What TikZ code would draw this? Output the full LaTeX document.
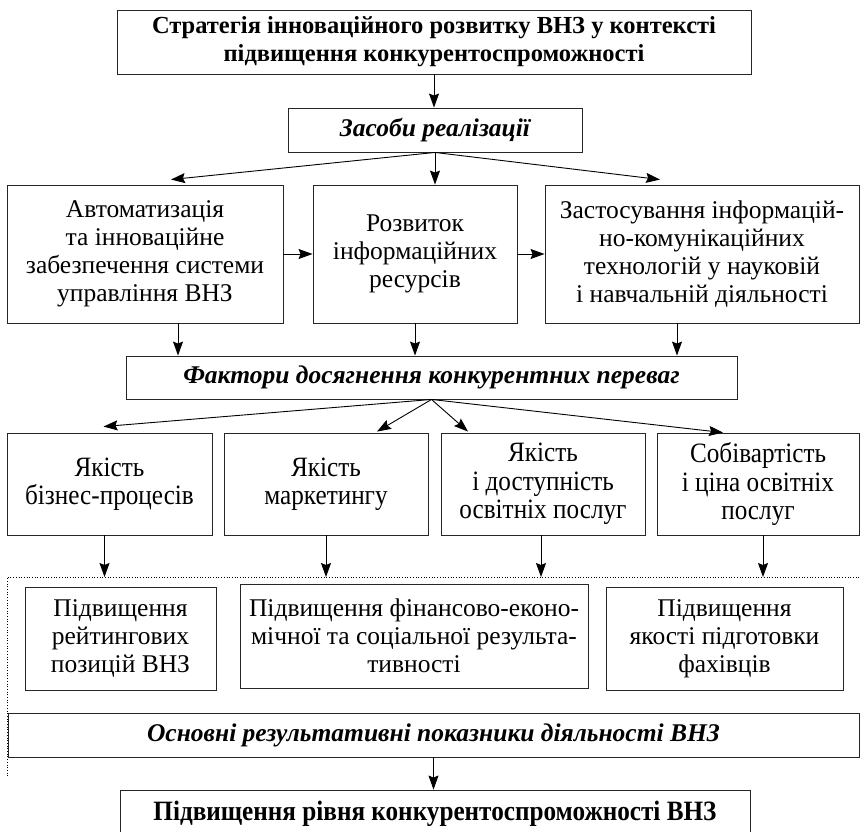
\documentclass[tikz,border=0pt]{standalone}
\usepackage{fontspec}
\setmainfont{Liberation Serif}
\newfontfamily\narrowfont{Liberation Serif}[FakeStretch=0.9]
\usetikzlibrary{arrows.meta}

\begin{document}
\begin{tikzpicture}[x=1pt,y=-1pt,
		box/.style={draw=black!85,line width=.9pt,align=center,inner sep=0pt,
			font=\fontsize{25.5}{28}\selectfont},
		headbox/.style={box,font=\fontsize{25.5}{28}\selectfont\bfseries\itshape},
		narrowbox/.style={box,font=\narrowfont\fontsize{28}{28.5}\selectfont},
		arr/.style={line width=.9pt,-{Stealth[length=14pt,width=10pt,inset=2pt]}}]

	\useasboundingbox (0,0) rectangle (861,831);

	\node[box,font=\fontsize{24.5}{28}\selectfont\bfseries,minimum width=634pt,minimum height=64pt] (strat) at (434,42)
		{Стратегія інноваційного розвитку ВНЗ у контексті\\підвищення конкурентоспроможності};
	\node[headbox,minimum width=294pt,minimum height=44pt] (means) at (435,130) {Засоби реалізації};

	\node[box,minimum width=276pt,minimum height=138pt] (auto) at (145,254)
		{Автоматизація\\та інноваційне\\забезпечення системи\\управління ВНЗ};
	\node[box,minimum width=204pt,minimum height=138pt] (res) at (415,254)
		{Розвиток\\інформаційних\\ресурсів};
	\node[box,minimum width=314pt,minimum height=138pt] (ict) at (702,254)
		{Застосування інформацій-\\но-комунікаційних\\технологій у науковій\\і навчальній діяльності};

	\node[headbox,minimum width=611pt,minimum height=43pt] (fact) at (431.5,377.5)
		{Фактори досягнення конкурентних переваг};
	\coordinate (hub) at (fact.south);

	\node[narrowbox,minimum width=205pt,minimum height=102pt] (qa) at (109.5,484) {Якість\\бізнес-процесів};
	\node[narrowbox,minimum width=204pt,minimum height=102pt] (qb) at (326,484) {Якість\\маркетингу};
	\node[narrowbox,minimum width=204pt,minimum height=102pt] (qc) at (543,484) {Якість\\і доступність\\освітніх послуг};
	\node[narrowbox,minimum width=202pt,minimum height=102pt] (qd) at (758,484) {Собівартість\\і ціна освітніх\\послуг};

	\coordinate (frame) at (7,577);
	\draw[dotted,line width=.7pt] (7,776) -- (frame) -- (861,577);

	\node[box,minimum width=191pt,minimum height=103pt] (ra) at (120.5,638.5)
		{Підвищення\\рейтингових\\позицій ВНЗ};
	\node[box,minimum width=348pt,minimum height=104pt] (rb) at (414,636)
		{Підвищення фінансово-еконо-\\мічної та соціальної результа-\\тивності};
	\node[box,minimum width=237pt,minimum height=103pt] (rc) at (724.5,638.5)
		{Підвищення\\якості підготовки\\фахівців};

	\node[headbox,minimum width=851pt,minimum height=44pt] (kpi) at (433.5,735)
		{Основні результативні показники діяльності ВНЗ};
	\node[box,font=\narrowfont\fontsize{28}{28}\selectfont\bfseries,minimum width=630pt,minimum height=48pt] (goal) at (435,814)
		{Підвищення рівня конкурентоспроможності ВНЗ};

	\draw[arr] (strat.south) -- (strat.south |- means.north);
	\draw[arr] (means.south) -- ([xshift=26pt,yshift=5pt]auto.north);
	\draw[arr] (means.south) -- (means.south |- res.north);
	\draw[arr] (means.south) -- ([xshift=-42pt,yshift=5pt]ict.north);
	\draw[arr] (auto.east) -- (res.west);
	\draw[arr] (res.east) -- (ict.west);

	\draw[arr] ([xshift=33pt]auto.south) -- ([xshift=33pt]auto.south |- fact.north);
	\draw[arr] (res.south) -- (res.south |- fact.north);
	\draw[arr] ([xshift=-25pt]ict.south) -- ([xshift=-25pt]ict.south |- fact.north);

	\draw[arr] (hub) -- ([xshift=-6pt,yshift=6pt]qa.north);
	\draw[arr] (hub) -- ([xshift=51pt,yshift=1pt]qb.north);
	\draw[arr] (hub) -- ([xshift=-75pt,yshift=1pt]qc.north);
	\draw[arr] (hub) -- ([xshift=-35pt]qd.north);

	\draw[arr] ([xshift=-5pt]qa.south) -- ([xshift=-5pt]qa.south |- frame);
	\draw[arr] (qb.south) -- (qb.south |- frame);
	\draw[arr] ([xshift=-2pt]qc.south) -- ([xshift=-2pt]qc.south |- frame);
	\draw[arr] ([xshift=5pt]qd.south) -- ([xshift=5pt]qd.south |- frame);

	\draw[arr] (kpi.south) -- (kpi.south |- goal.north);
\end{tikzpicture}
\end{document}
